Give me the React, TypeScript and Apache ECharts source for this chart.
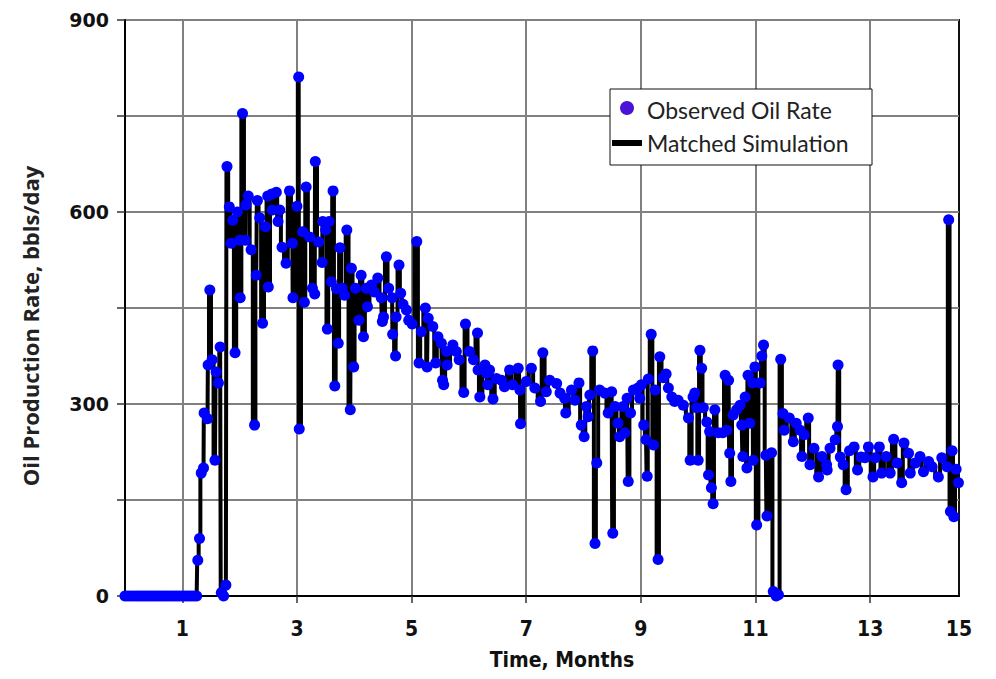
import React, { useEffect, useRef } from "react";
import * as echarts from "echarts";

// [month, bbls/day] — observed oil rate
const shutInPeriod: [number, number][] = [
  [0, 0], [0.05, 0], [0.1, 0], [0.15, 0], [0.2, 0], [0.25, 0], [0.3, 0], [0.35, 0], [0.4, 0],
  [0.45, 0], [0.5, 0], [0.55, 0], [0.6, 0], [0.65, 0], [0.7, 0], [0.75, 0], [0.8, 0], [0.85, 0],
  [0.9, 0], [0.95, 0], [1, 0], [1.05, 0], [1.1, 0], [1.15, 0], [1.2, 0], [1.25, 0],
];

const rampUp: [number, number][] = [
  [1.27, 56], [1.3, 90], [1.33, 192], [1.37, 200], [1.38, 286], [1.44, 277], [1.45, 361],
  [1.48, 478], [1.52, 369], [1.57, 212], [1.59, 350], [1.63, 333], [1.66, 389], [1.68, 5],
  [1.72, 0], [1.76, 17],
];

const plateau: [number, number][] = [
  [1.78, 671], [1.82, 608], [1.85, 551], [1.88, 587], [1.92, 380], [1.96, 600], [2, 556],
  [2.01, 466], [2.05, 754], [2.1, 556], [2.11, 611], [2.15, 625], [2.2, 541], [2.26, 267],
  [2.29, 501], [2.31, 618], [2.35, 591], [2.4, 426], [2.45, 577], [2.49, 625], [2.5, 483],
  [2.56, 628], [2.57, 603], [2.64, 631], [2.67, 585], [2.7, 603], [2.74, 545], [2.81, 520],
  [2.87, 633], [2.92, 551], [2.93, 466], [3, 609], [3.03, 811], [3.04, 261], [3.1, 569],
  [3.13, 459], [3.16, 639], [3.22, 561], [3.27, 481], [3.31, 472], [3.32, 679], [3.38, 553],
  [3.44, 521], [3.45, 585], [3.5, 572], [3.53, 417], [3.56, 585], [3.6, 491], [3.63, 633],
  [3.66, 328], [3.69, 480], [3.72, 395], [3.75, 544],
];

const decline: [number, number][] = [
  [3.79, 481], [3.83, 470], [3.87, 572], [3.93, 291], [3.95, 512], [3.99, 358], [4.02, 481],
  [4.08, 431], [4.12, 501], [4.16, 405], [4.21, 481], [4.23, 452], [4.3, 486], [4.35, 475],
  [4.41, 497], [4.47, 466], [4.49, 429], [4.51, 436], [4.56, 530], [4.6, 481], [4.66, 466],
  [4.67, 409], [4.72, 375], [4.73, 436], [4.78, 517], [4.81, 473], [4.85, 456], [4.91, 447],
  [4.95, 431], [5.01, 425], [5.09, 554], [5.13, 364], [5.17, 413], [5.24, 450], [5.27, 358],
  [5.29, 434], [5.37, 421], [5.42, 364], [5.46, 405], [5.52, 395], [5.54, 337], [5.56, 330],
  [5.61, 382], [5.62, 361], [5.72, 392], [5.78, 382], [5.83, 369], [5.91, 318], [5.94, 425],
  [6.01, 382], [6.08, 369], [6.15, 411], [6.16, 353], [6.19, 311], [6.28, 361], [6.31, 348],
  [6.33, 330], [6.36, 353], [6.42, 308], [6.48, 340], [6.57, 337], [6.62, 327], [6.71, 353],
  [6.76, 330], [6.86, 356], [6.89, 322], [6.9, 269], [7, 335], [7.09, 356], [7.15, 325],
  [7.25, 304], [7.29, 380], [7.35, 319],
];

const lateLife: [number, number][] = [
  [7.41, 337], [7.53, 332], [7.59, 317], [7.67, 309], [7.69, 286], [7.79, 322], [7.85, 306],
  [7.92, 333], [7.96, 267], [8.01, 249], [8.05, 296], [8.08, 280], [8.11, 314], [8.16, 383],
  [8.2, 82], [8.23, 208], [8.28, 322], [8.37, 317], [8.43, 286], [8.49, 319], [8.51, 98],
  [8.55, 296], [8.6, 270], [8.63, 249], [8.69, 296], [8.72, 255], [8.76, 309], [8.78, 179],
  [8.82, 286], [8.87, 322], [8.95, 325], [8.98, 309], [9.01, 330], [9.05, 267], [9.09, 244],
  [9.11, 187], [9.13, 339], [9.18, 409], [9.22, 236], [9.25, 322], [9.3, 57], [9.33, 374],
  [9.39, 341], [9.44, 347], [9.48, 325], [9.54, 311], [9.59, 304], [9.65, 306], [9.74, 298],
  [9.83, 278], [9.86, 212], [9.91, 311], [9.94, 317], [9.97, 294], [10, 212], [10.03, 384],
  [10.06, 356], [10.09, 294], [10.15, 272], [10.18, 189], [10.2, 257], [10.23, 169],
  [10.26, 144], [10.29, 291], [10.35, 255], [10.43, 255], [10.47, 345], [10.5, 259],
  [10.53, 337], [10.55, 223], [10.57, 179], [10.61, 283], [10.67, 291], [10.73, 298],
  [10.76, 267], [10.78, 218], [10.82, 311], [10.85, 200], [10.87, 345], [10.9, 270],
  [10.95, 333], [10.96, 212], [10.99, 358], [11.02, 111], [11.08, 333], [11.11, 375],
  [11.14, 392], [11.18, 220], [11.2, 125], [11.28, 224], [11.31, 7], [11.36, 0], [11.4, 2],
  [11.44, 370], [11.48, 285], [11.5, 259], [11.59, 278], [11.66, 241], [11.71, 270],
  [11.78, 259], [11.81, 218], [11.85, 252], [11.92, 278], [11.95, 205], [12.02, 231],
  [12.1, 186], [12.16, 218], [12.24, 205], [12.25, 197], [12.3, 231], [12.39, 244],
  [12.43, 265], [12.44, 361], [12.48, 217], [12.53, 205], [12.58, 166], [12.64, 227],
  [12.72, 233], [12.78, 197], [12.84, 217], [12.91, 216], [12.97, 233], [13.05, 186],
  [13.09, 216], [13.16, 233], [13.2, 192], [13.28, 218], [13.35, 192], [13.41, 245],
  [13.47, 208], [13.55, 177], [13.59, 239], [13.67, 223], [13.7, 192], [13.79, 208],
  [13.87, 218], [13.93, 194], [14.02, 210], [14.08, 202], [14.19, 186], [14.25, 216],
  [14.34, 202], [14.37, 588], [14.4, 132], [14.43, 227], [14.46, 124], [14.5, 198],
  [14.54, 177],
];

const observedOilRate: [number, number][] = [
  ...shutInPeriod, ...rampUp, ...plateau, ...decline, ...lateLife,
];
// the history-matched simulation traces the observed points
const matchedSimulation: [number, number][] = observedOilRate;

const xTickValues = [1, 3, 5, 7, 9, 11, 13, 14.55];
const xTickLabels = ["1", "3", "5", "7", "9", "11", "13", "15"];
const yTickLabels = [0, 300, 600, 900];

const X_MAX = 14.55;
const narrowBold = '"Liberation Sans Narrow", "DejaVu Sans Condensed", "Roboto", sans-serif';
const legendFont = '"Lato", sans-serif';

export default function App() {
  const ref = useRef<HTMLDivElement>(null);
  useEffect(() => {
    document.body.style.margin = "0";
    const chart = echarts.init(ref.current!, null, { renderer: "svg" });
    chart.setOption({
      animation: false,
      backgroundColor: "#ffffff",
      grid: {
        left: 125,
        top: 20,
        width: 834,
        height: 576,
        show: true,
        borderColor: "#111",
        borderWidth: 2,
        backgroundColor: "#ffffff",
      },
      xAxis: {
        type: "value",
        min: 0,
        max: X_MAX,
        axisLine: { show: true, onZero: false, lineStyle: { color: "#000", width: 2 } },
        axisTick: {
          show: true,
          customValues: xTickValues.slice(0, -1),
          length: 7,
          lineStyle: { color: "#333", width: 1.5 },
        },
        axisLabel: {
          customValues: xTickValues,
          formatter: (v: number) => {
            const i = xTickValues.findIndex((t) => Math.abs(t - v) < 1e-6);
            return i >= 0 ? xTickLabels[i] : "";
          },
          margin: 22,
          fontFamily: narrowBold,
          fontWeight: "bold",
          fontSize: 21,
          color: "#111",
        },
        splitLine: { show: true, lineStyle: { color: "#808080", width: 2 } },
        name: "Time, Months",
        nameLocation: "middle",
        nameGap: 53,
        nameTextStyle: {
          fontFamily: narrowBold,
          fontWeight: "bold",
          fontSize: 21,
          color: "#111",
          padding: [0, 0, 0, 40],
        },
      },
      yAxis: {
        type: "value",
        min: 0,
        max: 900,
        interval: 150,
        axisLine: { show: true, lineStyle: { color: "#000", width: 2 } },
        axisTick: { show: true, length: 8, lineStyle: { color: "#333", width: 1.5 } },
        axisLabel: {
          formatter: (v: number) => (yTickLabels.includes(v) ? String(v) : ""),
          fontFamily: '"DejaVu Sans", sans-serif',
          fontWeight: "bold",
          fontSize: 19,
          color: "#111",
          margin: 16,
        },
        splitLine: { show: true, lineStyle: { color: "#808080", width: 2 } },
        name: "Oil Production Rate, bbls/day",
        nameLocation: "middle",
        nameGap: 84,
        nameTextStyle: {
          fontFamily: '"Open Sans", sans-serif',
          fontWeight: "bold",
          fontSize: 22,
          color: "#222",
          padding: [0, 36, 0, 0],
        },
      },
      series: [
        {
          type: "line",
          name: "Matched Simulation",
          data: matchedSimulation,
          step: "middle",
          symbol: "none",
          showSymbol: false,
          lineStyle: { color: "#000", width: 4 },
          z: 2,
        },
        {
          type: "scatter",
          name: "Observed Oil Rate",
          data: observedOilRate,
          symbol: "circle",
          symbolSize: 11,
          itemStyle: { color: "#0000ff", opacity: 1 },
          z: 3,
        },
      ],
      graphic: [
        {
          type: "rect",
          z: 100,
          shape: { x: 610, y: 89, width: 262, height: 76 },
          style: { fill: "#ffffff", stroke: "#111", lineWidth: 1 },
        },
        {
          type: "circle",
          z: 101,
          shape: { cx: 627, cy: 108, r: 7 },
          style: { fill: "#4a12d6" },
        },
        {
          type: "text",
          z: 101,
          x: 647,
          y: 110,
          style: {
            text: "Observed Oil Rate",
            fontFamily: legendFont,
            fontSize: 23,
            fill: "#222",
            verticalAlign: "middle",
          },
        },
        {
          type: "rect",
          z: 101,
          shape: { x: 612, y: 140, width: 30, height: 6 },
          style: { fill: "#000" },
        },
        {
          type: "text",
          z: 101,
          x: 647,
          y: 143,
          style: {
            text: "Matched Simulation",
            fontFamily: legendFont,
            fontSize: 23,
            fill: "#222",
            verticalAlign: "middle",
          },
        },
      ],
    });
    return () => chart.dispose();
  }, []);
  return (
    <div
      ref={ref}
      style={{ width: 996, height: 679, position: "absolute", left: 0, top: 0 }}
    />
  );
}
